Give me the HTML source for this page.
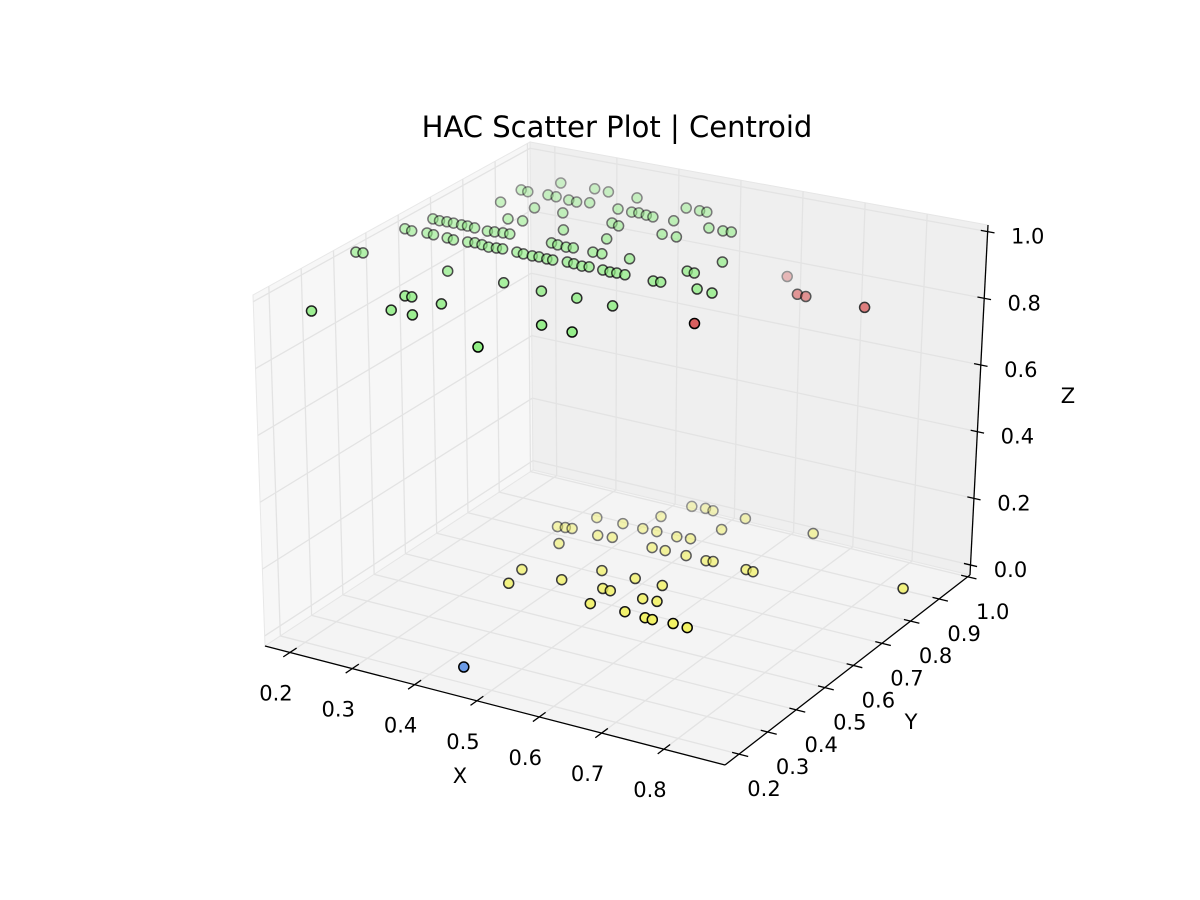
<!DOCTYPE html>
<html><head><meta charset="utf-8"><title>HAC Scatter Plot | Centroid</title>
<style>
html,body{margin:0;padding:0;background:#fff;}
svg{display:block;font-family:"DejaVu Sans","Liberation Sans",sans-serif;}
</style></head>
<body>
<svg id="chart" width="1200" height="900" viewBox="0 0 1200 900" xmlns="http://www.w3.org/2000/svg">
<rect x="0" y="0" width="1200" height="900" fill="#ffffff"/>
<text x="617" y="137" font-size="29" text-anchor="middle" fill="#000">HAC Scatter Plot | Centroid</text>
<g id="panes"></g>
<g id="grid"></g>
<g id="axes"></g>
<g id="points"></g>
</svg>
<script>
// ---- data ----
const xTicks = [0.2, 0.3, 0.4, 0.5, 0.6, 0.7, 0.8];
const yTicks = [0.2, 0.3, 0.4, 0.5, 0.6, 0.7, 0.8, 0.9, 1.0];
const zTicks = [0.0, 0.2, 0.4, 0.6, 0.8, 1.0];
const xTickLabels = ["0.2","0.3","0.4","0.5","0.6","0.7","0.8"];
const yTickLabels = ["0.2","0.3","0.4","0.5","0.6","0.7","0.8","0.9","1.0"];
const zTickLabels = ["0.0","0.2","0.4","0.6","0.8","1.0"];

const greenX = [.200,.148,.158,.165,.177,.199,.210,.181,.192,.203,.213,.226,.235,.247,.232,.243,.264,.274,.286,.298,.309,.318,.268,.278,.290,.300,.341,.352,.366,.376,.389,.398,.366,.377,.391,.401,.419,.430,.444,.454,.432,.446,.292,.380,.440,.495,.285,.295,.294,.328,.343,.464,.501,.550,.232,.271,.292,.283,.235,.246,.270,.276,.289,.310,.323,.340,.326,.357,.321,.343,.388,.385,.407,.417,.430,.441,.465,.486,.497,.403,.416,.473,.483,.505,.528,.550,.562,.425,.488,.476,.488,.498,.511,.556,.567,.579,.591,.605,.623,.648,.552];
const greenY = [.248,.498,.501,.623,.621,.626,.625,.682,.681,.683,.684,.684,.685,.684,.625,.623,.627,.630,.629,.626,.629,.631,.683,.686,.689,.691,.631,.630,.630,.632,.631,.632,.693,.691,.690,.693,.637,.636,.634,.637,.694,.695,.505,.509,.510,.514,.380,.382,.317,.317,.381,.255,.387,.387,.799,.744,.749,.806,.860,.859,.918,.864,.864,.863,.862,.870,.811,.750,.925,.925,.927,.871,.871,.874,.872,.871,.931,.932,.933,.815,.810,.874,.816,.818,.877,.878,.881,.753,.700,.637,.636,.638,.638,.639,.641,.703,.702,.765,.646,.644,.515];
const greenZ = [.95,.95,.95,.95,.95,.95,.95,.95,.95,.95,.95,.95,.95,.95,.95,.95,.95,.95,.95,.95,.95,.95,.95,.95,.95,.95,.95,.95,.95,.95,.95,.95,.95,.95,.95,.95,.95,.95,.95,.95,.95,.95,.95,.95,.95,.95,.95,.95,.95,.95,.95,.95,.95,.95,.95,.95,.95,.95,.95,.95,.95,.95,.95,.95,.95,.95,.95,.95,.95,.95,.95,.95,.95,.95,.95,.95,.95,.95,.95,.95,.95,.95,.95,.95,.95,.95,.95,.95,.95,.95,.95,.95,.95,.95,.95,.95,.95,.95,.95,.95,.95];

const yellowX = [.469,.489,.502,.555,.663,.375,.450,.417,.450,.472,.546,.344,.355,.365,.408,.429,.505,.525,.376,.495,.516,.550,.583,.593,.647,.659,.378,.476,.387,.444,.530,.575,.509,.522,.521,.575,.597,.577,.612,.624,.656,.680,.869];
const yellowY = [.944,.948,.946,.944,.946,.825,.882,.825,.823,.824,.885,.760,.763,.765,.761,.766,.822,.826,.700,.762,.762,.761,.759,.762,.760,.758,.575,.637,.514,.571,.636,.633,.573,.571,.508,.569,.571,.507,.502,.501,.504,.501,.821];
const yellowZ = [.05,.05,.05,.05,.05,.05,.05,.05,.05,.05,.05,.05,.05,.05,.05,.05,.05,.05,.05,.05,.05,.05,.05,.05,.05,.05,.05,.05,.05,.05,.05,.05,.05,.05,.05,.05,.05,.05,.05,.05,.05,.05,.05];

const redX = [.649,.693,.707,.797,.622];
const redY = [.887,.831,.830,.839,.640];
const redZ = [.85,.85,.85,.85,.85];

const blueX = [.453];
const blueY = [.234];
const blueZ = [0.0];

// ---- projection ----
const NS = "http://www.w3.org/2000/svg";
const XMIN = 0.16, XR = 0.738, YMIN = 0.151, YR = 0.857, ZMIN = -0.03, ZR = 1.05;
const C = {
  L:[265,646], F:[725,765], R:[970,575], B:[533,470],
  Lt:[253,295], Ft:[734,420], Rt:[988,225], Bt:[530,142]
};
function lerp(a,b,t){return [a[0]+(b[0]-a[0])*t, a[1]+(b[1]-a[1])*t];}
function boxProj(u,v,w){
  const f = lerp(lerp(C.L,C.F,u), lerp(C.B,C.R,u), v);
  const t = lerp(lerp(C.Lt,C.Ft,u), lerp(C.Bt,C.Rt,u), v);
  return lerp(f,t,w);
}
function xu(x){return (x-XMIN)/XR;}
function yu(y){return (y-YMIN)/YR;}
function zu(z){return (z-ZMIN)/ZR;}
const PXMIN = 0.171, PXR = 0.726, PYMIN = 0.16, PYR = 0.85, PZMIN = -0.01, PZR = 1.03;
function pointProj(x,y,z){
  const a = (x-PXMIN)/PXR - 0.5, b = (y-PYMIN)/PYR - 0.5, c = (z-PZMIN)/PZR - 0.5;
  return [622.5 + a*452 + b*261 + c*1, 437.6 + a*103 - b*175 - c*344];
}
function closeness(x,y,z){
  return 0.433*(x-PXMIN)/PXR - 0.75*(y-PYMIN)/PYR + 0.5*(z-PZMIN)/PZR;
}

function mk(tag, attrs, parent){
  const el = document.createElementNS(NS, tag);
  for (const k in attrs) el.setAttribute(k, attrs[k]);
  parent.appendChild(el);
  return el;
}
function pts(arr){return arr.map(p=>p[0].toFixed(1)+","+p[1].toFixed(1)).join(" ");}

const panes = document.getElementById("panes");
const grid = document.getElementById("grid");
const axes = document.getElementById("axes");
const ptsG = document.getElementById("points");

let p;
p = mk("polygon", {points: pts([C.L,C.B,C.Bt,C.Lt]), fill:"#f7f7f7", stroke:"#e8e8e8", "stroke-width":"1"}, panes);


p = mk("polygon", {points: pts([C.B,C.R,C.Rt,C.Bt]), fill:"#efefef", stroke:"#e6e6e6", "stroke-width":"1"}, panes);


p = mk("polygon", {points: pts([C.L,C.F,C.R,C.B]), fill:"#f4f4f4", stroke:"#e6e6e6", "stroke-width":"1"}, panes);



function gline(a,b,name){
  const l = mk("line", {x1:a[0],y1:a[1],x2:b[0],y2:b[1],stroke:"#e3e3e3","stroke-width":"1.3"}, grid);
  
  
}
xTicks.forEach(x=>{
  const u = xu(x);
  gline(boxProj(u,0,0), boxProj(u,1,0), 'x-grid-floor');
  gline(boxProj(u,1,0), boxProj(u,1,1), 'x-grid-back');
});
yTicks.forEach(y=>{
  const v = yu(y);
  gline(boxProj(0,v,0), boxProj(1,v,0), 'y-grid-floor');
  gline(boxProj(0,v,0), boxProj(0,v,1), 'y-grid-left');
});
zTicks.forEach(z=>{
  const w = zu(z);
  gline(boxProj(0,0,w), boxProj(0,1,w), 'z-grid-left');
  gline(boxProj(0,1,w), boxProj(1,1,w), 'z-grid-back');
});

function aline(a,b,name){
  const l = mk("line", {x1:a[0],y1:a[1],x2:b[0],y2:b[1],stroke:"#000","stroke-width":"1.3"}, axes);
  
  
}
function label(txt,x,y,name,size){
  const t = mk("text", {x:x, y:y, "font-size":size||21, "text-anchor":"middle", "dominant-baseline":"central", fill:"#000"}, axes);
  t.textContent = txt;
  
  
}
aline(boxProj(0,0,0), boxProj(1,0,0), 'x-axis-line');
aline(boxProj(1,0,0), boxProj(1,1,0), 'y-axis-line');
aline(boxProj(1,1,0), boxProj(1,1,1), 'z-axis-line');

xTicks.forEach((x,i)=>{
  const u = xu(x);
  aline(boxProj(u,-0.025,0), boxProj(u,0.025,0), 'x-tick');
  const q = boxProj(u,0,0);
  label(xTickLabels[i], q[0]-14, q[1]+41, 'x-tick-label');
});
yTicks.forEach((y,i)=>{
  const v = yu(y);
  aline(boxProj(0.985,v,0), boxProj(1.02,v,0), 'y-tick');
  const q = boxProj(1,v,0);
  label(yTickLabels[i], q[0]+25, q[1]+35, 'y-tick-label');
});
zTicks.forEach((z,i)=>{
  const w = zu(z);
  aline(boxProj(0.985,1,w), boxProj(1.015,1,w), 'z-tick');
  const q = boxProj(1,1,w);
  label(zTickLabels[i], q[0]+40, q[1]+5, 'z-tick-label');
});
label("X", 460, 776, 'x-axis-title');
label("Y", 911, 722, 'y-axis-title');
label("Z", 1068, 396, 'z-axis-title');

const series = [
  {name:'cluster-green', xs:greenX, ys:greenY, zs:greenZ, color:'#90ee84'},
  {name:'cluster-yellow', xs:yellowX, ys:yellowY, zs:yellowZ, color:'#f2f262'},
  {name:'cluster-red', xs:redX, ys:redY, zs:redZ, color:'#d95f5f'},
  {name:'cluster-blue', xs:blueX, ys:blueY, zs:blueZ, color:'#6c9be6'}
];
const all = [];
series.forEach(s=>{
  const cs = s.xs.map((x,i)=>closeness(x,s.ys[i],s.zs[i]));
  const cmin = Math.min(...cs), cmax = Math.max(...cs);
  s.xs.forEach((x,i)=>{
    const a = cmax>cmin ? 0.38 + 0.62*(cs[i]-cmin)/(cmax-cmin) : 1;
    all.push({s:s, x:x, y:s.ys[i], z:s.zs[i], c:cs[i], a:a});
  });
});
all.sort((p,q)=>p.c-q.c);
all.forEach(d=>{
  const q = pointProj(d.x,d.y,d.z);
  const c = mk("circle", {cx:q[0].toFixed(1), cy:q[1].toFixed(1), r:"5", fill:d.s.color, stroke:"#000", "stroke-width":"1.5", opacity:d.a.toFixed(2)}, ptsG);
  
  
});
</script>
</body></html>
